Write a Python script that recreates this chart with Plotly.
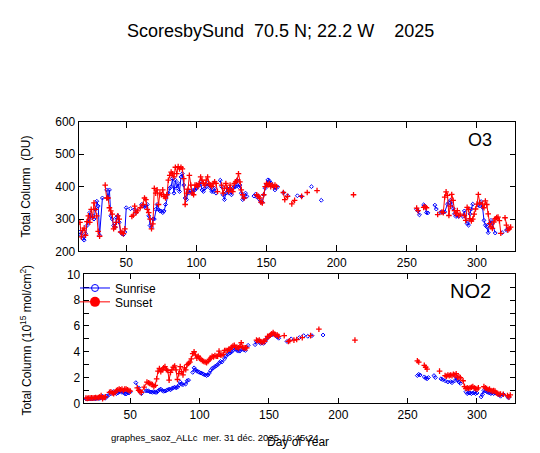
import plotly.graph_objects as go

W, H = 540, 453

# O3 total column (DU), sunrise (blue) and sunset (red)
o3_rise_day = [17, 18, 19, 20, 21, 22, 23, 24, 25, 26, 27, 28, 29, 30, 31,
               33, 36, 37, 38, 39, 40, 41, 42, 43, 44, 45, 46, 47, 48, 49, 50,
               53, 56, 57, 61, 62, 63, 64, 65, 66, 67, 68, 69, 70, 71, 72, 73, 74, 75, 76, 77, 78,
               80, 81, 82, 83, 84, 85, 86, 87, 88, 89, 90, 91, 92, 93, 94, 95, 96, 97, 98, 99, 100,
               101, 102, 103, 104, 105, 106, 107, 108, 109, 110, 111, 112, 113, 114,
               117, 118, 119, 120, 121, 122, 123, 124, 125, 126, 127, 128, 129, 130, 131, 132, 133, 134, 135, 136,
               141, 142, 143, 144, 145, 146, 147, 148, 149, 150, 151, 152, 153, 154, 155, 156, 158,
               162, 165, 172, 175, 182, 189,
               257, 258, 259, 262, 263, 264, 265, 270, 271, 274, 275, 276, 277, 279, 280, 281, 282, 283, 284, 285,
               287, 290, 291, 293, 294, 295, 296, 297, 301, 302, 303, 304, 305, 306, 307, 308, 309, 310, 311,
               313, 318, 321, 322]
o3_rise_val = [260, 250, 240, 235, 255, 280, 290, 320, 305, 310, 300, 330, 355, 340, 250,
               365, 390, 365, 390, 310, 300, 280, 275, 305, 310, 290, 260, 255, 252, 260, 335,
               332, 330, 320, 345, 340, 340, 335, 345, 310, 280, 275, 300, 300, 330, 345, 330, 325, 325, 320, 325, 345,
               380, 395, 400, 425, 380, 420, 395, 410, 385, 430, 440, 405, 365, 360, 385, 380, 385, 385, 390, 390, 395,
               400, 405, 415, 390, 385, 395, 400, 410, 405, 395, 385, 385, 395, 380,
               420, 400, 375, 360, 380, 395, 380, 395, 375, 395, 400, 400, 420, 400, 405, 380, 360, 365, 380, 370,
               371, 376, 368, 372, 360, 352, 352, 375, 395, 406, 421, 418, 412, 405, 400, 390, 399,
               381, 372, 372, 370, 400, 358,
               330, 325, 313, 344, 340, 320, 319, 343, 331, 321, 321, 321, 322, 346, 351, 358, 346, 333, 316, 308,
               308, 308, 325, 286, 281, 316, 331, 346, 343, 341, 354, 336, 296, 281, 276, 258, 286, 296, 286,
               257, 258, 266, 268]

o3_set_day = [17, 18, 19, 20, 21, 22, 23, 24, 25, 26, 27, 28, 29, 30, 31,
              35, 36, 37, 38, 39, 40, 41, 42, 43, 44, 45, 46, 47, 48, 49,
              54, 55, 56, 57, 58, 60, 62, 63, 64, 65, 66, 67, 68, 69, 70, 71, 72, 73, 74, 75, 76, 77, 78, 79,
              80, 81, 82, 83, 84, 85, 86, 87, 88, 89, 90, 91, 92, 93, 94, 95, 96, 97, 98, 99, 100,
              101, 102, 103, 104, 105, 106, 107, 108, 109, 110, 111, 112, 113, 114, 115,
              118, 119, 120, 121, 122, 123, 124, 125, 126, 127, 128, 129, 130, 131, 132, 133, 134,
              143, 144, 145, 146, 147, 148, 149, 150, 151, 152, 153, 154, 155, 156, 157,
              162, 163, 165, 168, 170, 175, 179, 186, 212,
              257, 258, 262, 263, 264, 272, 275, 276, 277, 278, 279, 280, 281, 282, 283, 284, 285, 286, 287, 288,
              291, 292, 293, 294, 295, 296, 297, 298, 299, 300, 301, 302, 304, 305, 306, 307, 308, 309, 310,
              311, 312, 313, 314, 315, 316, 317, 320, 321, 322, 323, 324]
o3_set_val = [290, 245, 265, 272, 250, 292, 310, 290, 330, 305, 350, 330, 310, 262, 247,
              405, 365, 365, 335, 325, 315, 270, 275, 290, 310, 300, 260, 258, 255, 270,
              308, 312, 340, 320, 325, 335, 345, 365, 360, 330, 320, 300, 270, 285, 395, 380, 390, 345, 380, 375, 390, 370, 365, 375,
              420, 435, 445, 440, 430, 460, 440, 462, 455, 460, 455, 425, 345, 380, 392, 435, 405, 380, 375, 405, 405,
              400, 410, 430, 420, 410, 405, 420, 430, 410, 405, 400, 410, 415, 410, 385,
              405, 380, 395, 410, 395, 385, 405, 390, 385, 410, 415, 420, 440, 415, 390, 375, 365,
              375, 370, 365, 352, 350, 375, 400, 410, 405, 410, 400, 405, 400, 405, 400,
              382, 360, 370, 347, 358, 370, 382, 388, 375,
              334, 326, 336, 338, 335, 314, 322, 320, 368, 384, 373, 311, 340, 376, 358, 326, 316, 326, 311, 315,
              311, 296, 336, 330, 301, 294, 300, 315, 331, 346, 376, 350, 346, 335, 356, 345, 316, 286, 276,
              271, 291, 301, 305, 306, 295, 256, 304, 281, 266, 270, 275]

# NO2 total column (1e15 mol/cm2)
no2_rise_day = [18, 19, 20, 21, 22, 23, 24, 25, 26, 27, 28, 29, 30, 31, 32, 33, 34,
                36, 37, 38, 39, 40, 41, 42, 43, 44, 45, 46, 47, 48, 49, 50,
                54, 56, 57, 58,
                61, 62, 63, 64, 65, 66, 67, 68, 69, 70, 71, 72, 73, 74, 75, 76, 77, 78, 79, 80,
                81, 82, 83, 84, 85, 86, 87, 88, 90, 91, 92,
                95, 96, 97, 98, 99, 100, 101, 102, 103, 104, 105, 106, 107, 108, 109, 110, 111, 112,
                113, 114, 115, 116, 118, 119, 120, 121, 122, 123, 124, 125, 126, 127, 128, 129, 131, 132, 133, 135,
                140, 141, 142, 143, 144, 145, 146, 147, 148, 149, 150, 151, 152, 153, 154, 155, 156, 157,
                163, 166, 172, 175, 178, 181, 189,
                257, 258, 259, 262, 263, 264, 265, 269, 270, 274, 275, 277, 279, 281, 282, 284, 285, 286, 287, 288,
                292, 293, 294, 295, 296, 297, 298, 299, 300, 303, 304, 305, 306, 307, 308, 309, 310, 311, 312,
                313, 315, 316, 317, 319, 322, 323]
no2_rise_val = [0.35, 0.33, 0.35, 0.35, 0.33, 0.35, 0.38, 0.35, 0.4, 0.4, 0.38, 0.45, 0.55, 0.45, 0.4, 0.55, 0.6,
                0.75, 0.85, 0.9, 0.8, 0.75, 0.8, 0.9, 0.93, 0.85, 0.9, 0.75, 0.72, 0.85, 0.8, 0.88,
                1.6, 1.2, 0.95, 0.75,
                0.95, 0.98, 0.95, 0.9, 0.88, 0.85, 0.9, 0.85, 0.85, 0.95, 1.05, 1.1, 1.0, 0.93, 0.95, 1.0, 1.05, 1.1, 1.05, 1.15,
                1.2, 1.25, 1.2, 1.25, 1.4, 1.65, 1.5, 1.45, 1.5, 1.75, 1.8,
                2.4, 2.75, 2.6, 2.5, 2.45, 2.4, 2.35, 2.3, 2.25, 2.2, 2.15, 2.2, 2.35, 2.55, 2.7, 2.75, 2.85, 2.9,
                3.0, 3.1, 3.25, 3.2, 3.45, 3.65, 3.8, 3.85, 3.9, 4.0, 4.1, 4.25, 4.2, 4.1, 4.05, 4.05, 4.2, 4.15, 4.1, 4.5,
                4.55, 4.8, 4.85, 4.75, 4.65, 4.7, 4.65, 4.75, 4.95, 5.1, 5.2, 5.25, 5.3, 5.4, 5.3, 5.25, 5.15, 5.05,
                4.8, 5.0, 5.1, 5.25, 5.2, 5.25, 5.3,
                2.15, 2.25, 2.2, 2.05, 1.95, 1.9, 2.0, 2.15, 2.0, 1.9, 1.85, 1.75, 1.65, 1.68, 1.6, 1.75, 2.0, 1.8, 1.65, 1.55,
                0.9, 0.75, 0.8, 0.8, 0.75, 0.8, 0.85, 0.75, 0.8, 0.5, 0.7, 1.0, 0.95, 0.9, 0.85, 0.8, 0.75, 0.8, 0.75,
                0.8, 0.7, 0.65, 0.55, 0.7, 0.5, 0.45]

no2_set_day = [18, 19, 20, 21, 22, 23, 24, 25, 26, 27, 28, 29, 30, 31, 32,
               35, 36, 37, 38, 39, 40, 41, 42, 43, 44, 45, 46, 47, 48, 49, 50,
               55, 56, 57, 58, 60,
               62, 63, 64, 65, 66, 67, 68, 69, 70, 71, 72, 73, 74, 75, 76, 77, 78, 79, 80,
               81, 82, 83, 84, 85, 86, 87, 88, 89, 90, 91, 92, 93, 94, 95, 96, 97, 98, 99, 100,
               101, 102, 103, 104, 105, 106, 107, 108, 109, 110, 111, 112,
               113, 114, 115, 116, 117, 118, 119, 120, 121, 122, 123, 124, 125, 126, 127, 128, 129, 130, 131, 132, 133, 134,
               141, 142, 143, 144, 145, 146, 147, 148, 149, 150, 151, 152, 153, 154, 155, 156, 157,
               161, 164, 165, 168, 170, 174, 180, 186, 212,
               257, 258, 262, 263, 264, 273, 277, 278, 279, 280, 281, 282, 283, 284, 285, 286, 287, 288,
               290, 291, 292, 293, 294, 295, 296, 297, 298, 299, 300, 301,
               305, 306, 307, 308, 309, 310, 311, 312, 313, 314, 315, 316, 317, 319, 322, 323, 324]
no2_set_val = [0.4, 0.38, 0.4, 0.4, 0.42, 0.4, 0.42, 0.45, 0.42, 0.45, 0.5, 0.6, 0.35, 0.45, 0.5,
               0.85, 0.9, 0.8, 0.75, 0.85, 1.0, 1.05, 1.1, 1.05, 1.1, 1.0, 1.1, 1.1, 1.05, 1.0, 0.95,
               1.2, 1.0, 0.9, 0.85, 1.25,
               1.65, 1.6, 1.55, 1.5, 1.45, 1.3, 1.4, 1.9, 2.5, 2.7, 2.45, 2.6, 2.75, 2.85, 2.6, 2.55, 1.8, 2.4, 2.6,
               2.8, 2.9, 2.6, 1.85, 2.3, 2.85, 2.45, 2.2, 2.75, 2.6, 3.0, 3.1, 3.2, 3.45, 3.85, 4.0, 3.75, 3.5, 3.65, 3.5,
               3.4, 3.3, 3.25, 3.2, 3.15, 3.25, 3.4, 3.5, 3.65, 3.6, 3.7, 3.65,
               3.65, 4.05, 3.75, 3.75, 3.8, 4.1, 4.1, 4.1, 4.2, 4.2, 4.35, 4.45, 4.5, 4.35, 4.35, 4.3, 4.4, 4.7, 4.35, 4.3, 4.3, 4.3,
               4.9, 4.85, 4.9, 4.8, 4.75, 4.8, 4.8, 5.0, 5.2, 5.2, 5.3, 5.4, 5.5, 5.35, 5.3, 5.3, 5.2,
               5.25, 4.8, 4.85, 4.9, 4.95, 5.1, 5.25, 5.75, 4.9,
               3.3, 3.2, 2.95, 2.8, 2.65, 2.5, 2.15, 2.1, 2.2, 2.15, 2.2, 2.15, 2.25, 2.2, 2.3, 2.0, 2.05, 2.0,
               1.75, 1.3, 1.15, 1.2, 1.15, 1.2, 1.25, 1.3, 1.2, 1.15, 1.1, 1.2,
               1.3, 1.2, 1.15, 1.05, 1.1, 1.0, 0.95, 1.0, 0.95, 0.8, 0.75, 0.7, 0.72, 0.7, 0.6, 0.5, 0.65]

title_txt = "ScoresbySund\u00a0\u00a070.5 N; 22.2 W\u00a0\u00a0\u00a0\u00a02025"
footer_txt = "graphes_saoz_ALLc\u00a0\u00a0mer. 31 déc. 2025 16:45:24"

BLUE = "#0000ff"
RED = "#ff0000"
FONT = "Liberation Sans, Arial, sans-serif"


def with_gaps(days, vals, max_gap=2):
    # break the line where days are not consecutive
    xs, ys = [], []
    for i, (d, v) in enumerate(zip(days, vals)):
        if i and d - days[i - 1] > max_gap:
            xs.append(None)
            ys.append(None)
        xs.append(d)
        ys.append(v)
    return xs, ys


def px(x):
    return x / W


def py(y):
    return 1 - y / H


fig = go.Figure()

rise_marker = dict(color=BLUE, symbol="diamond-open", size=3, line=dict(color=BLUE, width=1))
set_marker = dict(color=RED, symbol="cross-thin-open", size=4, line=dict(color=RED, width=1.3))
series = [
    (o3_rise_day, o3_rise_val, BLUE, rise_marker, "x", "y"),
    (o3_set_day, o3_set_val, RED, set_marker, "x", "y"),
    (no2_rise_day, no2_rise_val, BLUE, rise_marker, "x2", "y2"),
    (no2_set_day, no2_set_val, RED, set_marker, "x2", "y2"),
]
for days, vals, col, mk, xa, ya in series:
    xs, ys = with_gaps(days, vals)
    fig.add_trace(go.Scatter(x=xs, y=ys, xaxis=xa, yaxis=ya, mode="lines+markers",
                             line=dict(color=col, width=1), marker=mk,
                             connectgaps=False, showlegend=False, hoverinfo="skip"))

# legend entries only (one legend box each so the rows sit where the original has them)
fig.add_trace(go.Scatter(x=[None], y=[None], xaxis="x2", yaxis="y2", mode="lines+markers", name="Sunrise",
                         legend="legend",
                         line=dict(color=BLUE, width=1),
                         marker=dict(color=BLUE, symbol="circle-open", size=7, line=dict(color=BLUE, width=1))))
fig.add_trace(go.Scatter(x=[None], y=[None], xaxis="x2", yaxis="y2", mode="lines+markers", name="Sunset",
                         legend="legend2",
                         line=dict(color=RED, width=1),
                         marker=dict(color=RED, symbol="circle", size=10)))

axis_common = dict(showline=True, linecolor="black", linewidth=1, mirror="ticks", ticks="inside",
                   tickcolor="black", tickwidth=1, showgrid=False, zeroline=False,
                   tickfont=dict(family=FONT, size=12, color="black"))

leg_common = dict(xanchor="left", yanchor="middle", bgcolor="rgba(0,0,0,0)",
                  font=dict(family=FONT, size=12, color="black"), borderwidth=0)

fig.update_layout(
    width=W, height=H,
    margin=dict(l=0, r=0, t=0, b=0),
    paper_bgcolor="white", plot_bgcolor="white",
    font=dict(family=FONT, size=12, color="black"),
    xaxis=dict(domain=[px(70.7), px(506.7)], range=[16.1, 326.9], dtick=50, tick0=0, ticklen=6,
               anchor="y", **axis_common),
    yaxis=dict(domain=[py(244), py(110.3)], range=[200, 600], dtick=100, ticklen=5,
               anchor="x", **axis_common),
    xaxis2=dict(domain=[px(75.7), px(506.7)], range=[16.4, 327.2], dtick=50, tick0=0, ticklen=5,
                anchor="y2", **axis_common),
    yaxis2=dict(domain=[py(400.7), py(267.7)], range=[0, 10], dtick=2, ticklen=5,
                minor=dict(dtick=1, ticks="inside", ticklen=5, tickcolor="black"),
                anchor="x2", **axis_common),
    legend=dict(x=px(67), y=py(281.7), **leg_common),
    legend2=dict(x=px(67), y=py(296), **leg_common),
    showlegend=True,
    annotations=[
        dict(text=title_txt, x=px(272), y=py(17), xref="paper", yref="paper", showarrow=False,
             font=dict(size=18), xanchor="center", yanchor="middle"),
        dict(text="O3", x=px(472), y=py(129), xref="paper", yref="paper", showarrow=False,
             font=dict(size=18), xanchor="center", yanchor="middle"),
        dict(text="NO2", x=px(462), y=py(285), xref="paper", yref="paper", showarrow=False,
             font=dict(size=20), xanchor="center", yanchor="middle"),
        dict(text="Total Column\u00a0\u00a0(DU)", x=px(18), y=py(177), xref="paper", yref="paper",
             showarrow=False, textangle=-90, font=dict(size=12), xanchor="center", yanchor="middle"),
        dict(text="Total Column (10<sup>15</sup> mol/cm<sup>2</sup>)", x=px(18), y=py(336),
             xref="paper", yref="paper", showarrow=False, textangle=-90, font=dict(size=12),
             xanchor="center", yanchor="middle"),
        dict(text="Day of Year", x=px(290), y=py(441), xref="paper", yref="paper", showarrow=False,
             font=dict(size=12), xanchor="center", yanchor="middle"),
        dict(text=footer_txt, x=px(101), y=py(436), xref="paper", yref="paper", showarrow=False,
             font=dict(size=9.5), xanchor="left", yanchor="middle"),
    ],
)

fig.write_html("out.html")
